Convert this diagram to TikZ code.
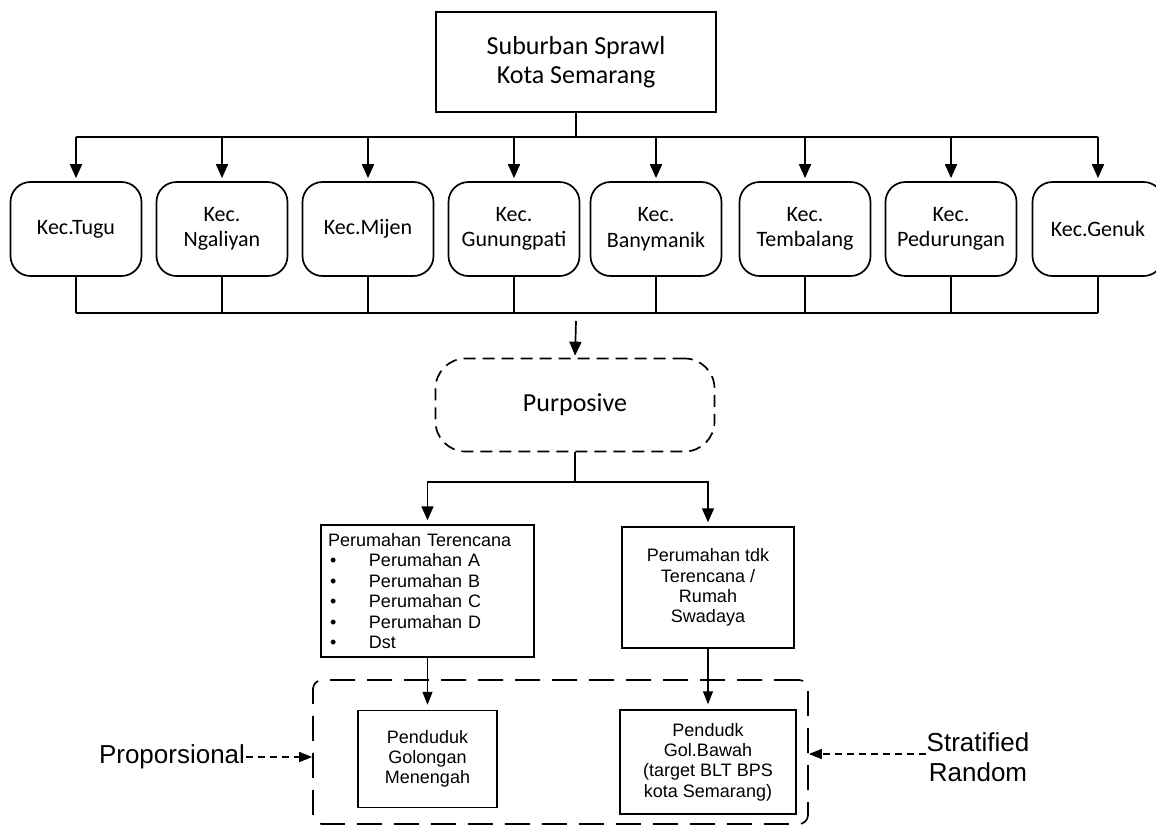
\documentclass[tikz,border=0pt]{standalone}
\usepackage{fontspec}
\setmainfont{Carlito}
\newfontfamily\arialf{Liberation Sans}
\usetikzlibrary{arrows.meta}
\begin{document}
\begin{tikzpicture}[x=1pt,y=-1pt,line width=1.7pt,
  arr/.style={-{Triangle[length=14pt,width=12pt]}},
  arrsm/.style={line width=1.3pt,-{Triangle[length=13pt,width=10pt]}},
  dasharr/.style={line width=1.5pt,dash pattern=on 7pt off 5pt,-{Triangle[length=13pt,width=10pt]}},
  kec/.style={draw,rounded corners=20pt,minimum width=131pt,minimum height=94pt,align=center,inner sep=0pt,font=\fontsize{22}{25.5}\selectfont},
  sqbox/.style={draw,line width=1.5pt,align=center,inner sep=0pt,font=\arialf\fontsize{18}{20.3}\selectfont},
  biglabel/.style={inner sep=0pt,align=center,font=\arialf\fontsize{26}{30}\selectfont}
]
\useasboundingbox (0,0) rectangle (1156,827);

\node[draw,minimum width=280pt,minimum height=100pt,align=center,inner sep=0pt,
      font=\fontsize{26}{29.5}\selectfont] (top) at (576,62) {Suburban Sprawl\\Kota Semarang};

\node[kec] (k1) at (76,229)   {Kec.Tugu};
\node[kec] (k2) at (222,229)  {Kec.\\Ngaliyan};
\node[kec] (k3) at (368,229)  {Kec.Mijen};
\node[kec] (k4) at (514,229)  {Kec.\\Gunungpati};
\node[kec] (k5) at (656,229)  {Kec.\\Banymanik};
\node[kec] (k6) at (805,229)  {Kec.\\Tembalang};
\node[kec] (k7) at (951,229)  {Kec.\\Pedurungan};
\node[kec] (k8) at (1098,229) {Kec.Genuk};

\coordinate (bus1) at (576,137);
\coordinate (bus2) at (576,313);
\coordinate (p0) at (576,321);

\draw (top.south) -- (bus1);
\draw (k1.north |- bus1) -- (k8.north |- bus1);
\foreach \k in {k1,k2,k3,k4,k5,k6,k7,k8}{
  \draw[arr,shorten >=3pt] (\k.north |- bus1) -- (\k.north);
  \draw (\k.south) -- (\k.south |- bus2);
}
\draw (k1.south |- bus2) -- (k8.south |- bus2);

\node[draw,dash pattern=on 12pt off 7pt,rounded corners=30pt,minimum width=279pt,minimum height=93pt,
      inner sep=0pt,font=\fontsize{26}{29}\selectfont] (purp) at (575,405) {Purposive};
\draw[arr,shorten >=2pt] (p0) -- (purp.north);

\coordinate (bus3) at (575,482);
\node[draw,line width=1.5pt,text width=199pt,inner xsep=7pt,inner ysep=0pt,minimum height=132pt,align=left,
      font=\arialf\fontsize{18}{20.5}\selectfont] (ter) at (427.5,591)
  {Perumahan Terencana\\
   \makebox[41pt][l]{\hspace{2pt}\textbullet}Perumahan A\\
   \makebox[41pt][l]{\hspace{2pt}\textbullet}Perumahan B\\
   \makebox[41pt][l]{\hspace{2pt}\textbullet}Perumahan C\\
   \makebox[41pt][l]{\hspace{2pt}\textbullet}Perumahan D\\
   \makebox[41pt][l]{\hspace{2pt}\textbullet}Dst};
\node[sqbox,minimum width=172pt,minimum height=121pt] (swa) at (708,587.5)
  {Perumahan tdk\\Terencana /\\Rumah\\Swadaya};

\draw (purp.south) -- (bus3);
\draw[arr,shorten >=4pt] (bus3) -| (ter.north);
\draw[arr,shorten >=4pt] (bus3) -| (swa.north);

\node[draw,dash pattern=on 25pt off 12pt,rounded corners=9pt,minimum width=495pt,minimum height=144pt,inner sep=0pt] (grp) at (560.5,752) {};

\node[sqbox,minimum width=139pt,minimum height=97pt] (menengah) at (427.5,759)
  {Penduduk\\Golongan\\Menengah};
\node[sqbox,minimum width=176pt,minimum height=104pt] (bawah) at (708,762)
  {Pendudk\\Gol.Bawah\\(target BLT BPS\\kota Semarang)};

\draw[arrsm,shorten >=5pt] (ter.south) -- (menengah.north);
\draw[arrsm,shorten >=5pt] (swa.south) -- (bawah.north);

\node[biglabel] (prop) at (172,757) {Proporsional};
\node[biglabel] (strat) at (978,757) {Stratified\\Random};

\draw[dasharr] (prop.east) -- (prop.east -| grp.west);
\draw[dasharr] ([yshift=3pt]strat.west) -- ([yshift=3pt]strat.west -| grp.east);
\end{tikzpicture}
\end{document}
